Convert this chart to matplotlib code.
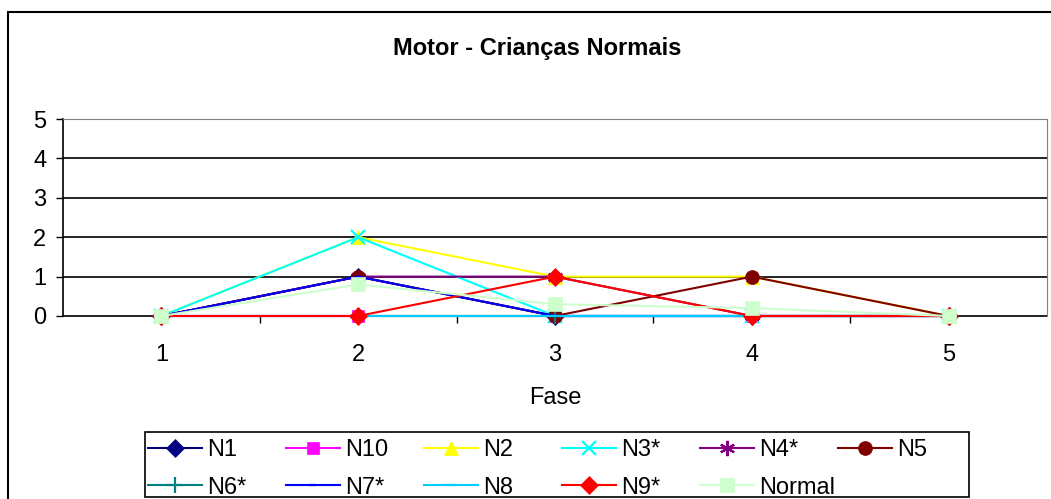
import numpy as np
import matplotlib.pyplot as plt
from matplotlib.patches import Rectangle

plt.rcParams['font.family'] = ['Liberation Sans', 'DejaVu Sans']

# Phases on the x axis and scores of each child per phase
fases = ['1', '2', '3', '4', '5']
n1 = [0, 1, 0, 0, 0]
n10 = [0, 0, 0, 0, 0]
n2 = [0, 2, 1, 1, 0]
n3 = [0, 2, 0, 0, 0]
n4 = [0, 1, 1, 0, 0]
n5 = [0, 1, 0, 1, 0]
n6 = [0, 0, 0, 0, 0]
n7 = [0, 1, 0, 0, 0]
n8 = [0, 0, 0, 0, 0]
n9 = [0, 0, 1, 0, 0]
normal = [0, 0.8, 0.3, 0.2, 0]

series = [
    ('N1', n1, '#000080', 'D', 9),
    ('N10', n10, '#FF00FF', 's', 9),
    ('N2', n2, '#FFFF00', '^', 10),
    ('N3*', n3, '#00FFFF', 'x', 10),
    ('N4*', n4, '#800080', (6, 2, 0), 11),
    ('N5', n5, '#800000', 'o', 10),
    ('N6*', n6, '#008080', '+', 11),
    ('N7*', n7, '#0000FF', '_', 5),
    ('N8', n8, '#00CCFF', '_', 9),
    ('N9*', n9, '#FF0000', 'D', 9),
    ('Normal', normal, '#CCFFCC', 's', 10),
]

FS = 17
W, H = 1051, 499

fig = plt.figure(figsize=(W / 100, H / 100), dpi=100)
ax = fig.add_axes([63 / W, 183 / H, 984 / W, 197 / H])

x = np.arange(1, len(fases) + 1)
handles = []
for name, vals, color, marker, ms in series:
    h, = ax.plot(x, vals, color=color, marker=marker, markersize=ms, lw=1.5,
                 markeredgewidth=1.6 if marker in ('x', '+', '_', (6, 2, 0)) else 0.5,
                 markeredgecolor=color, label=name, clip_on=False, zorder=3)
    handles.append(h)

ax.set_xlim(0.5, 5.5)
ax.set_ylim(0, 5)
ax.set_yticks(range(6))
ax.set_xticks(x)
ax.set_xticklabels(fases)
ax.set_xticks(np.arange(1.5, 5.5, 1), minor=True)
ax.tick_params(axis='x', which='major', length=0, pad=20, labelsize=FS)
ax.tick_params(axis='x', which='minor', length=5, width=1, direction='out')
ax.tick_params(axis='y', length=5, width=1, direction='out', pad=7, labelsize=FS)
ax.set_xlabel('Fase', fontsize=FS, labelpad=15)

# horizontal grid lines
for yv in range(1, 5):
    ax.axhline(yv, color='black', lw=1.2, zorder=1)
ax.spines['top'].set_color('#808080')
ax.spines['right'].set_color('#808080')
ax.spines['left'].set_linewidth(1.2)
ax.spines['bottom'].set_linewidth(1.2)
ax.spines['bottom'].set_zorder(2)

fig.text(537 / W, 1 - 48 / H, 'Motor - Crianças Normais', ha='center', va='center',
         fontsize=FS, fontweight='bold')

# legend: six equal-width columns, filled row by row, inside one box
ncols = 6
for j in range(ncols):
    col = [handles[i] for i in range(j, len(handles), ncols)]
    fig.legend(col, [h.get_label() for h in col], loc='upper left',
               bbox_to_anchor=((148 + 138 * j) / W, 1 - 439 / H),
               frameon=False, borderpad=0, borderaxespad=0, fontsize=FS,
               handlelength=2.3, handletextpad=0.2, labelspacing=0.66)
fig.patches.append(Rectangle((145 / W, 2 / H), 824 / W, 65 / H, transform=fig.transFigure,
                             fill=False, edgecolor='black', lw=1.2))

# outer chart border
fig.patches.append(Rectangle((8 / W, -0.1), 1.2, 1.1 - 12 / H, transform=fig.transFigure,
                             fill=False, edgecolor='black', lw=1.5))

fig.savefig('out.png', dpi=100)
